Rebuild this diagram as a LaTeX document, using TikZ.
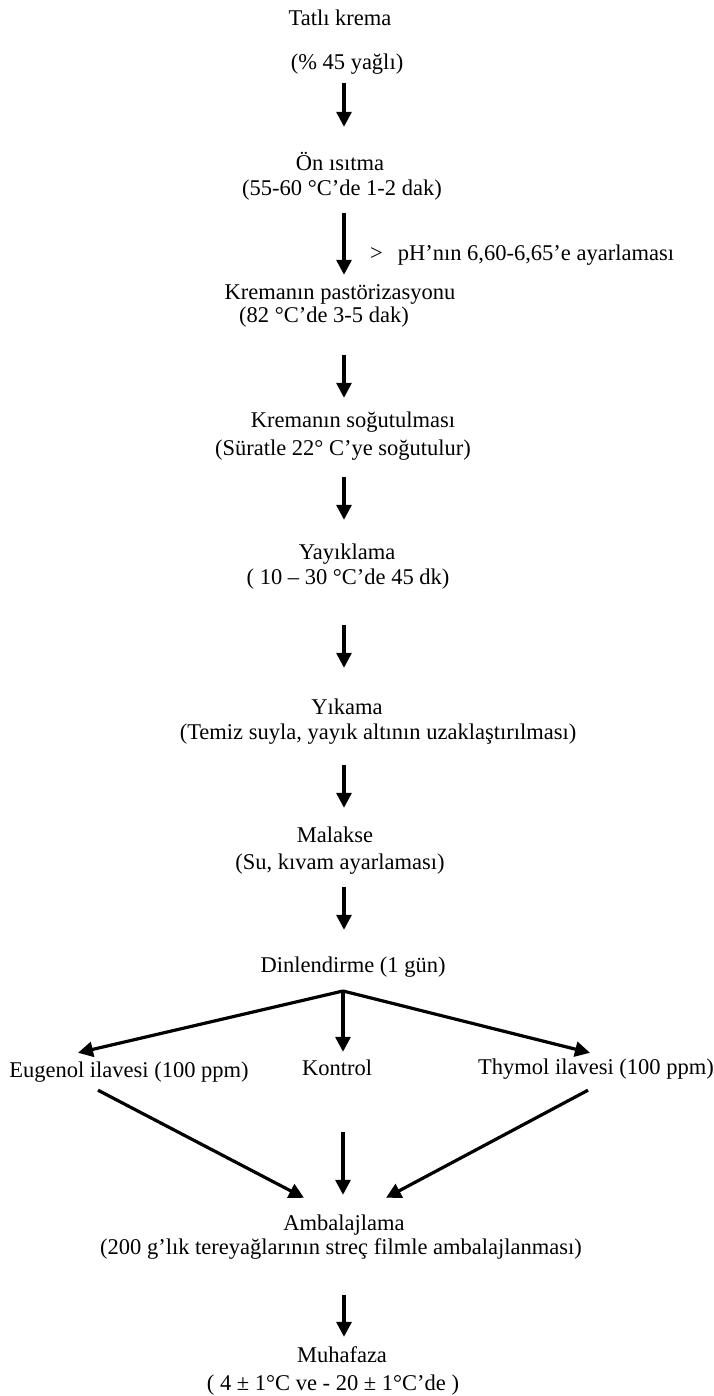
\documentclass[tikz,border=0pt]{standalone}
\usepackage{fontspec}
\setmainfont{Liberation Serif}
\usetikzlibrary{arrows.meta,calc}
\begin{document}
\begin{tikzpicture}[x=1pt,y=-1pt,
  txt/.style={inner sep=0pt,text height=16pt,text depth=5pt,font=\fontsize{22.5}{27}\selectfont},
  arr/.style={line width=3.2pt,-{Triangle[width=15pt,length=15pt]}},
  ln/.style={line width=3.2pt}]
\useasboundingbox (0,0) rectangle (713,1396);
\coordinate (ax) at (344,0);
\node[txt] (t1) at (340,20) {Tatlı krema};
\node[txt] (t2) at (347,64) {(\% 45 yağlı)};
\node[txt] (o1) at (340,165) {Ön ısıtma};
\node[txt] (o2) at (342,190) {(55-60 °C’de 1-2 dak)};
\node[txt,anchor=west] (ph) at (370,255) {>\hspace{15pt}pH’nın 6,60-6,65’e ayarlaması};
\node[txt] (k1) at (340,294) {Kremanın pastörizasyonu};
\node[txt] (k2) at (324,317) {(82 °C’de 3-5 dak)};
\node[txt] (s1) at (353,422) {Kremanın soğutulması};
\node[txt] (s2) at (343,450) {(Süratle 22° C’ye soğutulur)};
\node[txt] (y1) at (347,554) {Yayıklama};
\node[txt] (y2) at (348,579) {( 10 – 30 °C’de 45 dk)};
\node[txt] (w1) at (347,709) {Yıkama};
\node[txt] (w2) at (378,734) {(Temiz suyla, yayık altının uzaklaştırılması)};
\node[txt] (m1) at (335,837) {Malakse};
\node[txt] (m2) at (340,864) {(Su, kıvam ayarlaması)};
\node[txt] (d) at (353,967) {Dinlendirme (1 gün)};
\node[txt] (e) at (129,1072) {Eugenol ilavesi (100 ppm)};
\node[txt] (c) at (337,1070) {Kontrol};
\node[txt] (th) at (596,1069) {Thymol ilavesi (100 ppm)};
\node[txt] (a1) at (344,1225) {Ambalajlama};
\node[txt] (a2) at (341,1249) {(200 g’lık tereyağlarının streç filmle ambalajlanması)};
\node[txt] (h1) at (342,1357) {Muhafaza};
\node[txt] (h2) at (333,1385) {( 4 ± 1°C ve - 20 ± 1°C’de )};
\coordinate (br) at (343,991);
% vertical arrows
\draw[arr,shorten <=8.5pt,shorten >=27.5pt] (t2.south -| ax) -- (o1.north -| ax);
\draw[arr,shorten <=12.5pt,shorten >=8.5pt] (o2.south -| ax) -- (k1.north -| ax);
\draw[arr,shorten <=27.5pt,shorten >=13.5pt] (k2.south -| ax) -- (s1.north -| ax);
\draw[arr,shorten <=16.5pt,shorten >=23.5pt] (s2.south -| ax) -- (y1.north -| ax);
\draw[arr,shorten <=35.5pt,shorten >=30.5pt] (y2.south -| ax) -- (w1.north -| ax);
\draw[arr,shorten <=20.5pt,shorten >=18.5pt] (w2.south -| ax) -- (m1.north -| ax);
\draw[arr,shorten <=12.5pt,shorten >=26.5pt] (m2.south -| ax) -- (d.north -| ax);
\draw[ln,shorten <=13.5pt] (d.south -| br) -- (br);
% branches
\draw[arr] (br) -- ($(e.north)+(-51,-8.5)$);
\draw[arr,shorten >=7.5pt] (br) -- (br |- c.north);
\draw[arr] (br) -- ($(th.north)+(-6,-5.5)$);
% merging
\draw[arr] ($(e.south)+(-31,7.5)$) -- ($(a1.north)+(-40,-16.5)$);
\draw[arr,shorten <=51.5pt,shorten >=19.5pt] (c.south -| br) -- (a1.north -| br);
\draw[arr] ($(th.south)+(-8,10.5)$) -- ($(a1.north)+(42,-16.5)$);
\draw[arr,shorten <=35.5pt,shorten >=9.5pt] (a2.south -| ax) -- (h1.north -| ax);
\end{tikzpicture}
\end{document}
